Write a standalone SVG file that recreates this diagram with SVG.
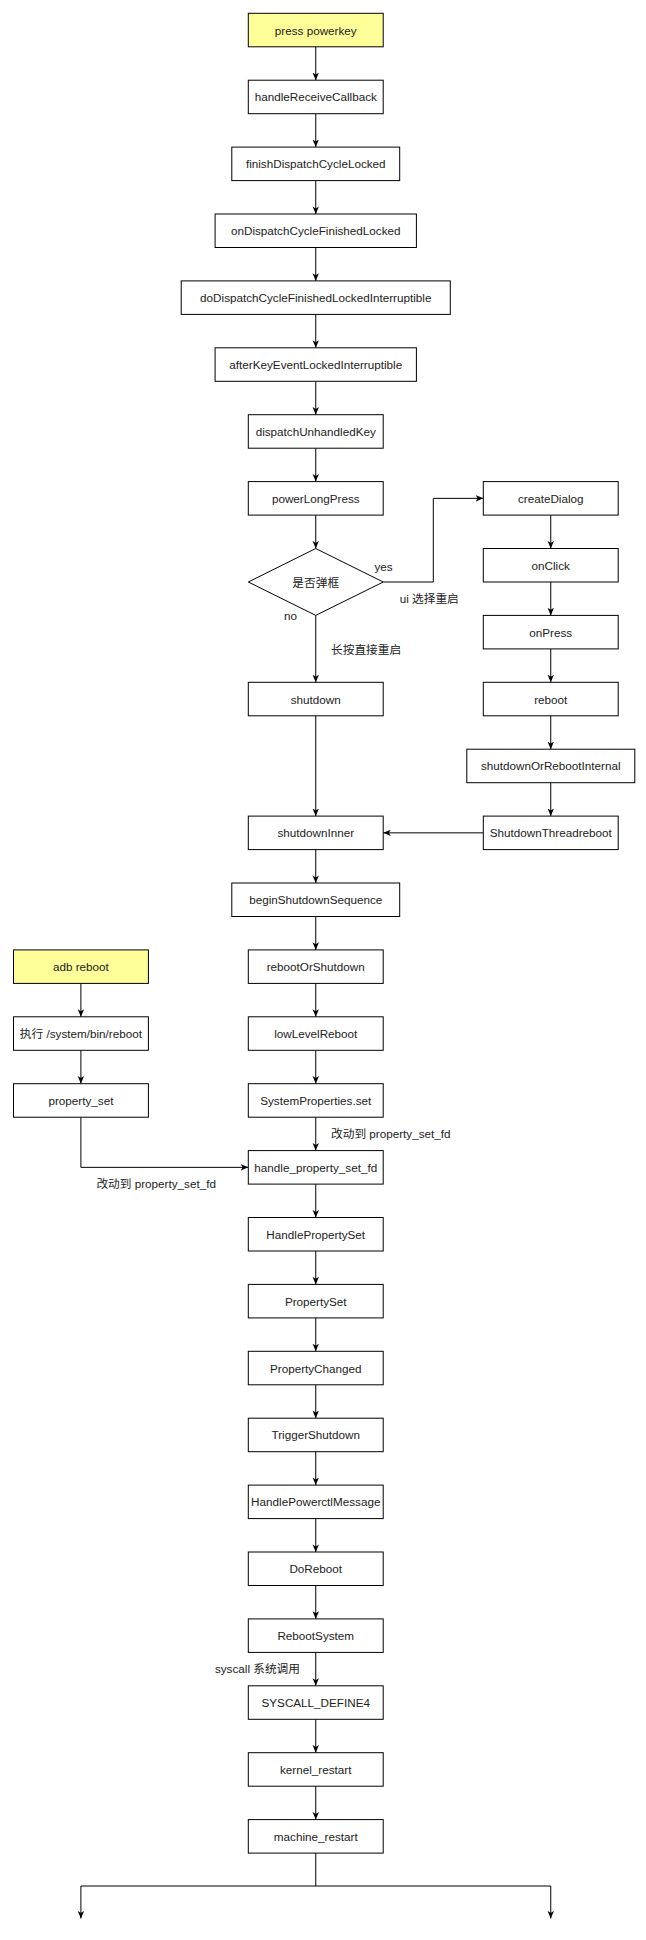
<svg xmlns="http://www.w3.org/2000/svg" width="646" height="1940" viewBox="0 0 646 1940">
<defs>
<marker id="a" viewBox="0 0 10 10" refX="9.5" refY="5" markerWidth="8" markerHeight="8" markerUnits="userSpaceOnUse" orient="auto">
<path d="M0,1 L9.5,5 L0,9 L2.5,5 z" fill="#000"/>
</marker>
</defs>
<style>
rect,polygon{fill:#fff;stroke:#000;stroke-width:1}
.y{fill:#ffff99}
text{font-family:"Liberation Sans","Noto Sans CJK SC",sans-serif;font-size:11.7px;fill:#222;text-anchor:middle;dominant-baseline:central}
.l{text-anchor:start}
.r{text-anchor:end}
#edges path{fill:none;stroke:#000;stroke-width:1;marker-end:url(#a)}
#edges path.n{marker-end:none}
</style>
<rect width="646" height="1940" style="fill:#fff;stroke:none"/>
<g id="edges">
<path d="M315.75,46.8V80.2"/>
<path d="M315.75,113.7V147.1"/>
<path d="M315.75,180.6V214"/>
<path d="M315.75,247.5V280.9"/>
<path d="M315.75,314.4V347.8"/>
<path d="M315.75,381.3V414.7"/>
<path d="M315.75,448.2V481.6"/>
<path d="M315.75,515.1V548.5"/>
<path d="M383.2,582H433.3V498.35H483.3"/>
<path d="M550.75,515.1V548.5"/>
<path d="M550.75,582V615.4"/>
<path d="M550.75,648.9V682.3"/>
<path d="M550.75,715.8V749.2"/>
<path d="M550.75,782.7V816.1"/>
<path d="M483.3,832.85H383.2"/>
<path d="M315.75,615.4V682.3"/>
<path d="M315.75,715.8V816.1"/>
<path d="M315.75,849.6V883"/>
<path d="M315.75,916.5V949.9"/>
<path d="M315.75,983.4V1016.8"/>
<path d="M315.75,1050.3V1083.7"/>
<path d="M315.75,1117.2V1150.6"/>
<path d="M80.9,983.4V1016.8"/>
<path d="M80.9,1050.3V1083.7"/>
<path d="M80.9,1117.2V1167.35H248.3"/>
<path d="M315.75,1184.1V1217.5"/>
<path d="M315.75,1251V1284.4"/>
<path d="M315.75,1317.9V1351.3"/>
<path d="M315.75,1384.8V1418.2"/>
<path d="M315.75,1451.7V1485.1"/>
<path d="M315.75,1518.6V1552"/>
<path d="M315.75,1585.5V1618.9"/>
<path d="M315.75,1652.4V1685.8"/>
<path d="M315.75,1719.3V1752.7"/>
<path d="M315.75,1786.2V1819.6"/>
<path class="n" d="M315.75,1853.1V1886M80.9,1886H550.75"/>
<path d="M80.9,1886V1918.5"/>
<path d="M550.75,1886V1918.5"/>
</g>
<g id="labels">
<text x="383.6" y="566">yes</text>
<text x="399.7" y="598" class="l">ui 选择重启</text>
<text x="290.5" y="615">no</text>
<text x="331" y="649" class="l">长按直接重启</text>
<text x="331" y="1133.3" class="l">改动到 property_set_fd</text>
<text x="96.4" y="1183.7" class="l">改动到 property_set_fd</text>
<text x="300" y="1668.3" class="r">syscall 系统调用</text>
</g>
<g id="n0"><rect class="y" x="248.3" y="13.3" width="134.9" height="33.5"/><text x="315.75" y="30.05">press powerkey</text></g>
<g id="n1"><rect x="248.3" y="80.2" width="134.9" height="33.5"/><text x="315.75" y="96.95">handleReceiveCallback</text></g>
<g id="n2"><rect x="231.8" y="147.1" width="167.9" height="33.5"/><text x="315.75" y="163.85">finishDispatchCycleLocked</text></g>
<g id="n3"><rect x="215.1" y="214" width="201.3" height="33.5"/><text x="315.75" y="230.75">onDispatchCycleFinishedLocked</text></g>
<g id="n4"><rect x="181.2" y="280.9" width="269.1" height="33.5"/><text x="315.75" y="297.65">doDispatchCycleFinishedLockedInterruptible</text></g>
<g id="n5"><rect x="215.1" y="347.8" width="201.3" height="33.5"/><text x="315.75" y="364.55">afterKeyEventLockedInterruptible</text></g>
<g id="n6"><rect x="248.3" y="414.7" width="134.9" height="33.5"/><text x="315.75" y="431.45">dispatchUnhandledKey</text></g>
<g id="n7"><rect x="248.3" y="481.6" width="134.9" height="33.5"/><text x="315.75" y="498.35">powerLongPress</text></g>
<g id="n8"><polygon points="315.75,548.5 383.2,582 315.75,615.4 248.3,582"/><text x="315.75" y="582">是否弹框</text></g>
<g id="n9"><rect x="483.3" y="481.6" width="134.9" height="33.5"/><text x="550.75" y="498.35">createDialog</text></g>
<g id="n10"><rect x="483.3" y="548.5" width="134.9" height="33.5"/><text x="550.75" y="565.25">onClick</text></g>
<g id="n11"><rect x="483.3" y="615.4" width="134.9" height="33.5"/><text x="550.75" y="632.15">onPress</text></g>
<g id="n12"><rect x="483.3" y="682.3" width="134.9" height="33.5"/><text x="550.75" y="699.05">reboot</text></g>
<g id="n13"><rect x="466.8" y="749.2" width="168" height="33.5"/><text x="550.75" y="765.95">shutdownOrRebootInternal</text></g>
<g id="n14"><rect x="483.3" y="816.1" width="134.9" height="33.5"/><text x="550.75" y="832.85">ShutdownThreadreboot</text></g>
<g id="n15"><rect x="248.3" y="682.3" width="134.9" height="33.5"/><text x="315.75" y="699.05">shutdown</text></g>
<g id="n16"><rect x="248.3" y="816.1" width="134.9" height="33.5"/><text x="315.75" y="832.85">shutdownInner</text></g>
<g id="n17"><rect x="231.8" y="883" width="167.9" height="33.5"/><text x="315.75" y="899.75">beginShutdownSequence</text></g>
<g id="n18"><rect x="248.3" y="949.9" width="134.9" height="33.5"/><text x="315.75" y="966.65">rebootOrShutdown</text></g>
<g id="n19"><rect class="y" x="13.5" y="949.9" width="134.9" height="33.5"/><text x="80.9" y="966.65">adb reboot</text></g>
<g id="n20"><rect x="13.5" y="1016.8" width="134.9" height="33.5"/><text x="80.9" y="1033.55">执行 /system/bin/reboot</text></g>
<g id="n21"><rect x="13.5" y="1083.7" width="134.9" height="33.5"/><text x="80.9" y="1100.45">property_set</text></g>
<g id="n22"><rect x="248.3" y="1016.8" width="134.9" height="33.5"/><text x="315.75" y="1033.55">lowLevelReboot</text></g>
<g id="n23"><rect x="248.3" y="1083.7" width="134.9" height="33.5"/><text x="315.75" y="1100.45">SystemProperties.set</text></g>
<g id="n24"><rect x="248.3" y="1150.6" width="134.9" height="33.5"/><text x="315.75" y="1167.35">handle_property_set_fd</text></g>
<g id="n25"><rect x="248.3" y="1217.5" width="134.9" height="33.5"/><text x="315.75" y="1234.25">HandlePropertySet</text></g>
<g id="n26"><rect x="248.3" y="1284.4" width="134.9" height="33.5"/><text x="315.75" y="1301.15">PropertySet</text></g>
<g id="n27"><rect x="248.3" y="1351.3" width="134.9" height="33.5"/><text x="315.75" y="1368.05">PropertyChanged</text></g>
<g id="n28"><rect x="248.3" y="1418.2" width="134.9" height="33.5"/><text x="315.75" y="1434.95">TriggerShutdown</text></g>
<g id="n29"><rect x="248.3" y="1485.1" width="134.9" height="33.5"/><text x="315.75" y="1501.85">HandlePowerctlMessage</text></g>
<g id="n30"><rect x="248.3" y="1552" width="134.9" height="33.5"/><text x="315.75" y="1568.75">DoReboot</text></g>
<g id="n31"><rect x="248.3" y="1618.9" width="134.9" height="33.5"/><text x="315.75" y="1635.65">RebootSystem</text></g>
<g id="n32"><rect x="248.3" y="1685.8" width="134.9" height="33.5"/><text x="315.75" y="1702.55">SYSCALL_DEFINE4</text></g>
<g id="n33"><rect x="248.3" y="1752.7" width="134.9" height="33.5"/><text x="315.75" y="1769.45">kernel_restart</text></g>
<g id="n34"><rect x="248.3" y="1819.6" width="134.9" height="33.5"/><text x="315.75" y="1836.35">machine_restart</text></g>
</svg>
